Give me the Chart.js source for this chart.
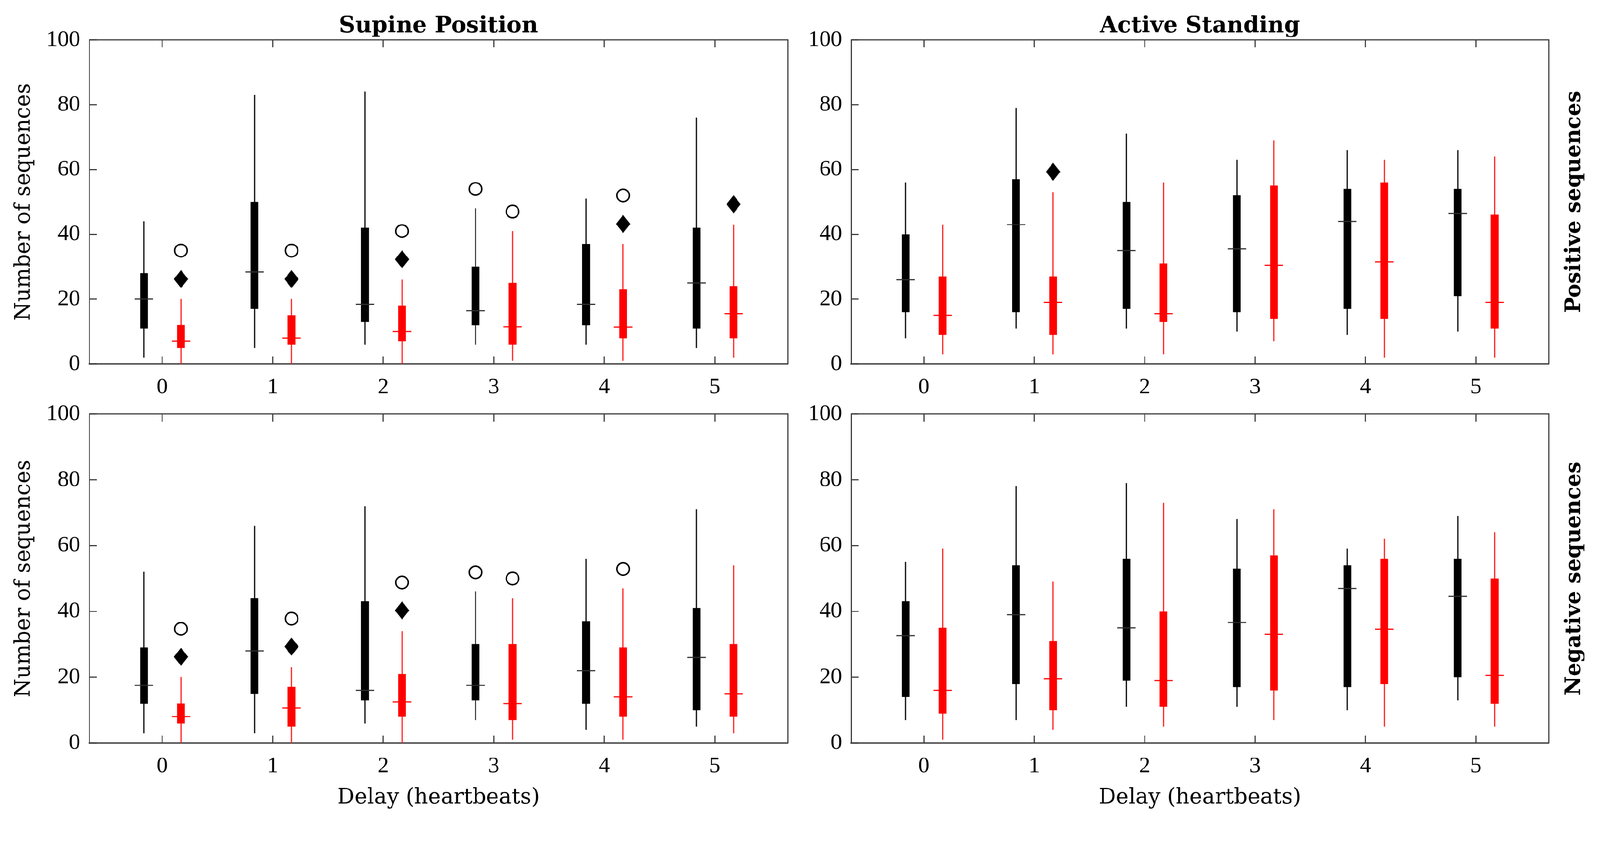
<!DOCTYPE html>
<html>
<head>
<meta charset="utf-8">
<script src="https://cdn.jsdelivr.net/npm/chart.js@4.4.1/dist/chart.umd.min.js"></script>
<style>
html,body{margin:0;padding:0;background:#fff;overflow:hidden}
#wrap{position:absolute;left:0;top:0;width:4249px;height:2177px;transform-origin:0 0;background:#fff}
canvas{position:absolute}
</style>
</head>
<body>
<div id="wrap">
<canvas id="c1"></canvas>
<canvas id="c2"></canvas>
<canvas id="c3"></canvas>
<canvas id="c4"></canvas>
</div>
<script>
// ---------------- DATA ----------------
const delays = [0, 1, 2, 3, 4, 5];
const yTicks = [0, 20, 40, 60, 80, 100];
// five-number summaries per delay: [min, q1, median, q3, max]
const supinePosBlack = [[2,11,20,28,44],[5,17,28.4,50,83],[6,13,18.4,42,84],[6,12,16.4,30,48],[6,12,18.4,37,51],[5,11,25,42,76]];
const supinePosRed   = [[0,5,7,12,20],[0,6,8,15,20],[0,7,10,18,26],[1,6,11.5,25,41],[1,8,11.4,23,37],[2,8,15.5,24,43]];
const activePosBlack = [[8,16,26,40,56],[11,16,43,57,79],[11,17,35,50,71],[10,16,35.5,52,63],[9,17,44,54,66],[10,21,46.5,54,66]];
const activePosRed   = [[3,9,15,27,43],[3,9,19,27,53],[3,13,15.5,31,56],[7,14,30.5,55,69],[2,14,31.5,56,63],[2,11,19,46,64]];
const supineNegBlack = [[3,12,17.5,29,52],[3,15,28,44,66],[6,13,16,43,72],[7,13,17.5,30,46],[4,12,22,37,56],[5,10,26,41,71]];
const supineNegRed   = [[0,6,8,12,20],[0,5,10.6,17,23],[0,8,12.5,21,34],[1,7,12,30,44],[1,8,14,29,47],[3,8,15,30,54]];
const activeNegBlack = [[7,14,32.6,43,55],[7,18,39,54,78],[11,19,35,56,79],[11,17,36.6,53,68],[10,17,47,54,59],[13,20,44.6,56,69]];
const activeNegRed   = [[1,9,16,35,59],[4,10,19.5,31,49],[5,11,19,40,73],[7,16,33,57,71],[5,18,34.6,56,62],[5,12,20.5,50,64]];
// markers: [delay, group, value]
const supinePosCircles  = [[0,'red',35],[1,'red',35],[2,'red',41],[3,'black',54],[3,'red',47],[4,'red',52]];
const supinePosDiamonds = [[0,'red',26.2],[1,'red',26.2],[2,'red',32.3],[4,'red',43.2],[5,'red',49.3]];
const activePosCircles  = [];
const activePosDiamonds = [[1,'red',59.3]];
const supineNegCircles  = [[0,'red',34.7],[1,'red',37.8],[2,'red',48.8],[3,'black',51.9],[3,'red',50],[4,'red',52.9]];
const supineNegDiamonds = [[0,'red',26.2],[1,'red',29.3],[2,'red',40.3]];
const activeNegCircles  = [];
const activeNegDiamonds = [];

// ---------------- STYLE ----------------
const FULL_W = 4249, FULL_H = 2177;
const fit = Math.min(window.innerWidth / FULL_W, window.innerHeight / FULL_H) || 1;
document.getElementById('wrap').style.transform = 'scale(' + fit + ')';

const OFF = {black: -0.165, red: 0.17};
const BOXCOL = {black: '#000000', red: '#ff0000'};
const WHISKCOL = {black: '#111111', red: '#ff1f1f'};
const MEDCOL = {black: '#2e2e2e', red: '#ff0000'};
const tickFont = {family: '"Liberation Serif", serif', size: 60, lineHeight: 1.2};
const labelFont = {family: '"DejaVu Serif", serif', size: 57, lineHeight: 1.2};

const diamond = document.createElement('canvas');
diamond.width = 38; diamond.height = 48;
(function(){
  const g = diamond.getContext('2d');
  g.fillStyle = '#000';
  g.beginPath(); g.moveTo(19,0); g.lineTo(38,24); g.lineTo(19,48); g.lineTo(0,24); g.closePath(); g.fill();
})();

function boxDatasets(stats, group) {
  const off = OFF[group];
  return [
    {type:'bar', grouped:false, order:3, barThickness: group==='black' ? 2.6 : 2.4,
     backgroundColor: WHISKCOL[group], borderWidth:0,
     data: stats.map((s,i)=>({x: delays[i]+off, y:[s[0], s[4]]}))},
    {type:'bar', grouped:false, order:2, barThickness: 20,
     backgroundColor: BOXCOL[group], borderWidth:0,
     data: stats.map((s,i)=>({x: delays[i]+off, y:[s[1], s[3]]}))},
    {type:'scatter', order:1, showLine:false, pointStyle:'line', pointRadius:24.5,
     pointBorderWidth:3, pointBorderColor: MEDCOL[group], pointBackgroundColor: MEDCOL[group],
     data: stats.map((s,i)=>({x: delays[i]+off, y: s[2]}))}
  ];
}
function markerDatasets(circles, diamonds) {
  return [
    {type:'scatter', order:0, showLine:false, pointStyle:'circle', pointRadius:16.5,
     pointBorderWidth:4, pointBorderColor:'#000', pointBackgroundColor:'rgba(255,255,255,0)',
     data: circles.map(m=>({x: m[0]+OFF[m[1]], y: m[2]}))},
    {type:'scatter', order:0, showLine:false, pointStyle: diamond, pointRadius:20,
     data: diamonds.map(m=>({x: m[0]+OFF[m[1]], y: m[2]}))}
  ];
}

const framePlugin = {
  id: 'frame',
  afterDraw(chart, args, opts) {
    const {ctx, chartArea: a, scales} = chart;
    ctx.save();
    ctx.strokeStyle = '#3a3a3a'; ctx.lineWidth = 3;
    ctx.beginPath(); ctx.moveTo(a.left, a.top); ctx.lineTo(a.right, a.top); ctx.lineTo(a.right, a.bottom); ctx.stroke();
    ctx.beginPath();
    scales.x.ticks.forEach(t => {
      const px = scales.x.getPixelForValue(t.value);
      ctx.moveTo(px, a.bottom); ctx.lineTo(px, a.bottom - 20);
      ctx.moveTo(px, a.top); ctx.lineTo(px, a.top + 20);
    });
    scales.y.ticks.forEach(t => {
      const py = scales.y.getPixelForValue(t.value);
      ctx.moveTo(a.left, py); ctx.lineTo(a.left + 20, py);
    });
    ctx.stroke();
    ctx.fillStyle = '#000';
    if (opts.title) {
      ctx.font = 'bold 60px "DejaVu Serif", serif';
      ctx.textAlign = 'center'; ctx.textBaseline = 'alphabetic';
      ctx.fillText(opts.title, (a.left + a.right) / 2, opts.titleY);
    }
    if (opts.side) {
      ctx.font = 'bold 56px "DejaVu Serif", serif';
      ctx.translate(opts.sideX, (a.top + a.bottom) / 2);
      ctx.rotate(-Math.PI / 2);
      ctx.textAlign = 'center'; ctx.textBaseline = 'middle';
      ctx.fillText(opts.side, 0, 0);
    }
    ctx.restore();
  }
};

const panels = [
  {id:'c1', left:0, top:0, w:2140, h:1090, area:{l:237,t:106,r:2092,b:967},
   black:supinePosBlack, red:supinePosRed, circles:supinePosCircles, diamonds:supinePosDiamonds,
   title:'Supine Position', yTitle:'Number of sequences', xTitle:null, side:null},
  {id:'c2', left:2140, top:0, w:2109, h:1090, area:{l:120,t:106,r:1973,b:967},
   black:activePosBlack, red:activePosRed, circles:activePosCircles, diamonds:activePosDiamonds,
   title:'Active Standing', yTitle:null, xTitle:null, side:'Positive sequences'},
  {id:'c3', left:0, top:1000, w:2140, h:1177, area:{l:237,t:100,r:2092,b:974},
   black:supineNegBlack, red:supineNegRed, circles:supineNegCircles, diamonds:supineNegDiamonds,
   title:null, yTitle:'Number of sequences', xTitle:'Delay (heartbeats)', side:null},
  {id:'c4', left:2140, top:1000, w:2109, h:1177, area:{l:120,t:100,r:1973,b:974},
   black:activeNegBlack, red:activeNegRed, circles:activeNegCircles, diamonds:activeNegDiamonds,
   title:null, yTitle:null, xTitle:'Delay (heartbeats)', side:'Negative sequences'}
];

panels.forEach(p => {
  const cv = document.getElementById(p.id);
  cv.width = p.w; cv.height = p.h;
  cv.style.left = p.left + 'px'; cv.style.top = p.top + 'px';
  cv.style.width = p.w + 'px'; cv.style.height = p.h + 'px';
  const yW = p.area.l, xH = p.h - p.area.b;
  new Chart(cv, {
    type: 'bar',
    data: {datasets: [...boxDatasets(p.black,'black'), ...boxDatasets(p.red,'red'), ...markerDatasets(p.circles, p.diamonds)]},
    options: {
      responsive:false, devicePixelRatio:1, animation:false, events:[],
      layout:{padding:{left:0, top:p.area.t, right:p.w - p.area.r, bottom:0}},
      plugins:{legend:{display:false}, tooltip:{enabled:false}, title:{display:false},
        frame:{title:p.title, titleY:86, side:p.side, sideX:2041}},
      scales:{
        x:{type:'linear', min:-0.66, max:5.66, offset:false,
           afterBuildTicks: s => { s.ticks = delays.map(v => ({value:v})); },
           afterFit: s => { s.height = xH; },
           grid:{display:false, drawTicks:false},
           border:{display:true, color:'#505050', width:4},
           ticks:{font:tickFont, color:'#000', padding:26, maxRotation:0, autoSkip:false, callback: v => String(v)},
           title:{display:!!p.xTitle, text:p.xTitle || '', font:labelFont, color:'#000', padding:{top:0,bottom:23}}},
        y:{type:'linear', min:0, max:100,
           afterBuildTicks: s => { s.ticks = yTicks.map(v => ({value:v})); },
           afterFit: s => { s.width = yW; },
           grid:{display:false, drawTicks:false},
           border:{display:true, color:'#3a3a3a', width:3},
           ticks:{font:tickFont, color:'#000', padding:24, callback: v => String(v)},
           title:{display:!!p.yTitle, text:p.yTitle || '', font:labelFont, color:'#000', padding:{top:30,bottom:0}}}
      }
    },
    plugins:[framePlugin]
  });
});
</script>
</body>
</html>
